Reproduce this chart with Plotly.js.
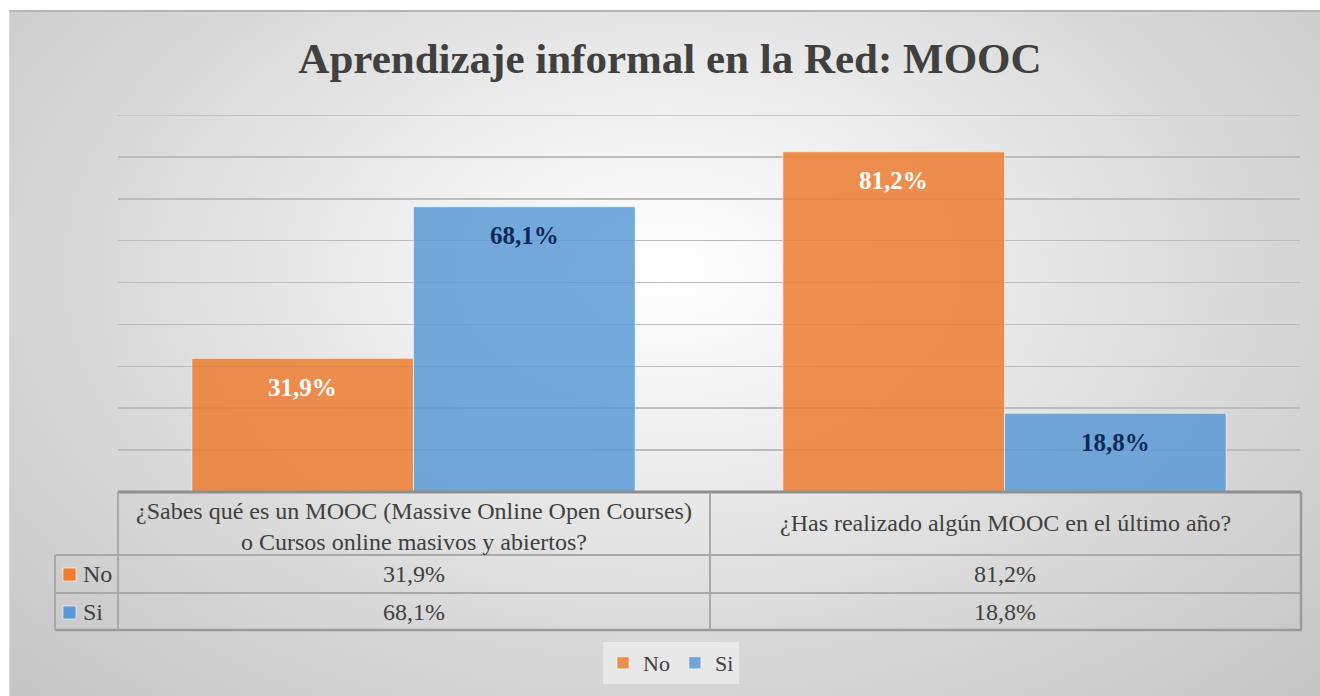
<!DOCTYPE html>
<html>
<head>
<meta charset="utf-8">
<script src="https://cdn.plot.ly/plotly-3.0.1.min.js"></script>
<style>
  html, body { margin: 0; padding: 0; background: #ffffff; }
  #bg {
    position: absolute; left: 9px; top: 10px; width: 1311px; height: 686px;
    box-sizing: border-box;
    border-top: 2px solid #b4b4b4; border-left: 1px solid #dcdcdc;
    background: radial-gradient(ellipse farthest-corner at 50% 38%, #ffffff 0%, #f3f3f3 22%, #dadada 60%, #c5c5c5 100%);
  }
  #chart { position: absolute; left: 0; top: 0; width: 1320px; height: 696px; }
</style>
</head>
<body>
<div id="bg"></div>
<div id="chart"></div>
<script>
// ---- data ----
const categories = [
  "¿Sabes qué es un MOOC (Massive Online Open Courses)<br>o Cursos online masivos y abiertos?",
  "¿Has realizado algún MOOC en el último año?"
];
const seriesNames = ["No", "Si"];
const noValues = [31.9, 81.2];
const siValues = [68.1, 18.8];
const chartTitle = "Aprendizaje informal en la Red: MOOC";

// ---- styles ----
const ORANGE = "rgba(237,125,49,0.85)";
const BLUE = "rgba(91,155,213,0.85)";
const ORANGE_KEY = "#ED7D31";
const BLUE_KEY = "#5B9BD5";
const TXT = "#404040";
const SERIF = "Liberation Serif, Times New Roman, serif";
const GRID = "#bcbcbc";

const fmt = v => v.toFixed(1).replace(".", ",") + "%";

// pixel helpers for table layout (plot area: x 118..1300, y 115..492)
const PL = 118, PR = 1300, PT = 115, PB = 492;
const px = p => (p - PL) / (PR - PL);
const py = p => (PB - p) / (PB - PT);

const xIdx = categories.map((c, i) => i);

const traces = [
  { type: "bar", name: seriesNames[0], x: xIdx, y: noValues,
    marker: { color: ORANGE, line: { color: "rgba(255,255,255,0.55)", width: 1 } },
    hoverinfo: "skip" },
  { type: "bar", name: seriesNames[1], x: xIdx, y: siValues,
    marker: { color: BLUE, line: { color: "rgba(255,255,255,0.55)", width: 1 } },
    hoverinfo: "skip" }
];

const annotations = [];
const shapes = [];

// top gridline (90 %), drawn below the bars
shapes.push({
  type: "line", xref: "paper", yref: "y", x0: 0, x1: 1, y0: 90, y1: 90,
  line: { color: GRID, width: 1.5 }, layer: "below"
});

// data labels (inside end of each bar)
const series = [noValues, siValues];
const labelColors = ["#ffffff", "#0f2a5c"];
series.forEach((vals, s) => {
  vals.forEach((v, i) => {
    annotations.push({
      x: i + (s === 0 ? -0.1875 : 0.1875), y: v, xref: "x", yref: "y",
      text: "<b>" + fmt(v) + "</b>", showarrow: false,
      yanchor: "middle", yshift: -29,
      font: { family: SERIF, size: 25, color: labelColors[s] }
    });
  });
});

// data table
const colCenters = [414, 1005];
const headerY = [526, 523];
categories.forEach((c, i) => {
  annotations.push({
    x: px(colCenters[i]), y: py(headerY[i]), xref: "paper", yref: "paper",
    text: c, showarrow: false, xanchor: "center", yanchor: "middle",
    font: { family: SERIF, size: 24, color: TXT }
  });
});
const rowY = [574, 612];
const keyColors = [ORANGE_KEY, BLUE_KEY];
series.forEach((vals, s) => {
  vals.forEach((v, i) => {
    annotations.push({
      x: px(colCenters[i]), y: py(rowY[s]), xref: "paper", yref: "paper",
      text: fmt(v), showarrow: false, xanchor: "center", yanchor: "middle",
      font: { family: SERIF, size: 24, color: TXT }
    });
  });
  annotations.push({
    x: px(81), y: py(rowY[s]), xref: "paper", yref: "paper",
    text: seriesNames[s], showarrow: false, xanchor: "left", yanchor: "middle",
    font: { family: SERIF, size: 24, color: TXT }
  });
  shapes.push({
    type: "rect", xref: "paper", yref: "paper",
    x0: px(63), x1: px(76), y0: py(rowY[s] - 6), y1: py(rowY[s] + 7),
    fillcolor: keyColors[s], line: { color: "rgba(255,255,255,0.6)", width: 1 }
  });
});

const tl = (x0, y0, x1, y1, c, w) => shapes.push({
  type: "line", xref: "paper", yref: "paper",
  x0: px(x0), y0: py(y0), x1: px(x1), y1: py(y1),
  line: { color: c, width: w }
});
const LC = "#a9a9a9";
tl(118, 492, 1301, 492, "#8f8f8f", 3);
tl(55, 555, 1301, 555, LC, 2);
tl(55, 593, 1301, 593, LC, 2);
tl(55, 630, 1302, 630, "#9a9a9a", 2.5);
tl(55, 555, 55, 630, LC, 2);
tl(118, 492, 118, 630, LC, 2);
tl(710, 492, 710, 630, LC, 2);
tl(1301, 492, 1301, 630, "#9a9a9a", 2.5);

const layout = {
  width: 1320, height: 696,
  margin: { l: PL, r: 1320 - PR, t: PT, b: 696 - PB, pad: 0 },
  paper_bgcolor: "rgba(0,0,0,0)",
  plot_bgcolor: "rgba(0,0,0,0)",
  title: {
    text: "<b>" + chartTitle + "</b>",
    x: 670 / 1320, xref: "container", xanchor: "center",
    y: 1 - 58 / 696, yref: "container", yanchor: "middle",
    font: { family: SERIF, size: 43, color: TXT }
  },
  barmode: "group",
  bargap: 0.25,
  bargroupgap: 0,
  xaxis: {
    range: [-0.5, 1.5], showticklabels: false, showgrid: false,
    zeroline: false, showline: false, ticks: "", fixedrange: true
  },
  yaxis: {
    range: [0, 90], dtick: 10, showticklabels: false,
    showgrid: true, gridcolor: GRID, gridwidth: 1.5,
    zeroline: false, showline: false, ticks: "", fixedrange: true
  },
  showlegend: true,
  legend: {
    orientation: "h",
    x: px(671), xanchor: "center",
    y: py(642), yanchor: "top",
    bgcolor: "rgba(240,240,240,0.7)",
    font: { family: SERIF, size: 22, color: TXT },
    itemwidth: 30,
    traceorder: "normal"
  },
  annotations: annotations,
  shapes: shapes
};

Plotly.newPlot("chart", traces, layout, { displayModeBar: false, staticPlot: true });
</script>
</body>
</html>
